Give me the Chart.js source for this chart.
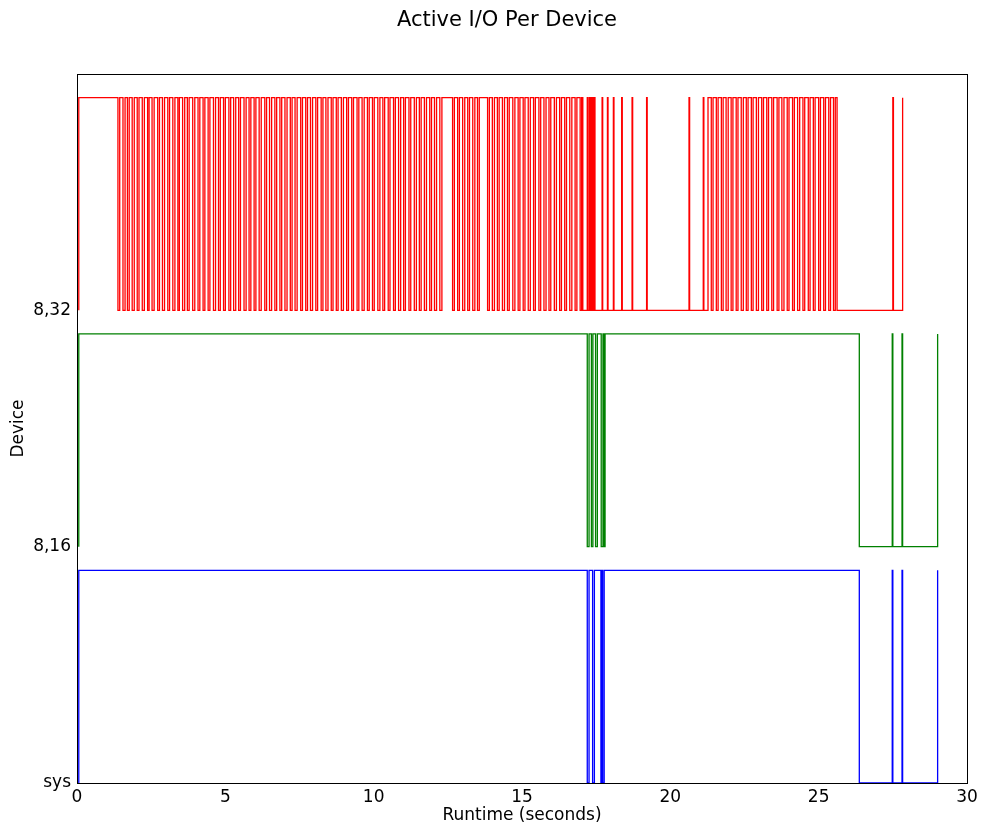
<!DOCTYPE html>
<html>
<head>
<meta charset="utf-8">
<script src="https://cdn.jsdelivr.net/npm/chart.js@4/dist/chart.umd.min.js"></script>
<style>
  html, body { margin: 0; padding: 0; background: #fff; }
  #wrap { width: 982px; height: 828px; position: relative; }
</style>
</head>
<body>
<div id="wrap"><canvas id="c" width="982" height="828"></canvas></div>
<script>
// ---- data ----
const chartTitle = "Active I/O Per Device";
const xAxisTitle = "Runtime (seconds)";
const yAxisTitle = "Device";
const deviceLabels = ["sys", "8,16", "8,32"];
const deviceBase = [0, 1, 2];
const activeLevel = 0.9;
const xTicks = [0, 5, 10, 15, 20, 25, 30];

// Toggle times (seconds): each series starts idle, and flips idle/active at every listed time.
const sysToggles = [0.06,
  17.20, 17.26, 17.38, 17.44, 17.66, 17.69, 17.72, 17.77,
  26.37, 27.48, 27.50, 27.81, 27.83, 29.01];

const dev816Toggles = [0.06,
  17.20, 17.26, 17.34, 17.39, 17.48, 17.54, 17.67, 17.73, 17.76, 17.80,
  26.37, 27.48, 27.50, 27.81, 27.83, 29.01];

const dev832Toggles = [0.06,
  1.38, 1.44, 1.55, 1.62, 1.70, 1.76, 1.86, 1.93, 2.03, 2.09, 2.20, 2.27, 2.38, 2.43,
  2.53, 2.60, 2.72, 2.78, 2.88, 2.95, 3.06, 3.12, 3.23, 3.30, 3.40, 3.45, 3.56, 3.63,
  3.72, 3.78, 3.90, 3.97, 4.08, 4.14, 4.25, 4.31, 4.42, 4.48, 4.60, 4.67, 4.77, 4.83,
  4.94, 5.00, 5.12, 5.18, 5.28, 5.35, 5.45, 5.51, 5.63, 5.70, 5.80, 5.86, 5.97, 6.03,
  6.14, 6.21, 6.33, 6.39, 6.49, 6.56, 6.67, 6.73, 6.84, 6.90, 7.01, 7.08, 7.19, 7.25,
  7.35, 7.42, 7.54, 7.60, 7.71, 7.77, 7.87, 7.94, 8.05, 8.11, 8.23, 8.29, 8.39, 8.46,
  8.57, 8.63, 8.74, 8.80, 8.91, 8.98, 9.09, 9.15, 9.26, 9.32, 9.44, 9.50, 9.61, 9.68,
  9.79, 9.85, 9.96, 10.02, 10.14, 10.21, 10.31, 10.37, 10.49, 10.55, 10.67, 10.73,
  10.84, 10.91, 11.01, 11.07, 11.19, 11.25, 11.37, 11.44, 11.54, 11.60, 11.71, 11.78,
  11.89, 11.95, 12.05, 12.12, 12.23, 12.30, 12.66, 12.72, 12.83, 12.89, 13.00, 13.07,
  13.17, 13.23, 13.34, 13.41, 13.50, 13.56, 13.84, 13.90, 14.00, 14.07, 14.17, 14.23,
  14.34, 14.41, 14.51, 14.57, 14.69, 14.76, 14.87, 14.93, 15.04, 15.10, 15.21, 15.28,
  15.39, 15.45, 15.57, 15.63, 15.74, 15.81, 15.91, 15.97, 16.09, 16.16, 16.27, 16.33,
  16.44, 16.50, 16.61, 16.68, 16.79, 16.85, 16.96, 17.01,
  17.05,
  17.20, 17.22, 17.27, 17.29, 17.33, 17.35, 17.38, 17.40, 17.44, 17.46, 17.70, 17.72,
  17.88, 17.90, 18.08, 18.10, 18.36, 18.38, 18.71, 18.73, 19.20, 19.22, 20.63, 20.65,
  21.11, 21.13,
  21.27,
  21.38, 21.44, 21.55, 21.61, 21.72, 21.78, 21.88, 21.95, 22.05, 22.11, 22.22, 22.28,
  22.39, 22.46, 22.56, 22.62, 22.73, 22.79, 22.90, 22.97, 23.08, 23.14, 23.25, 23.31,
  23.42, 23.48, 23.60, 23.66, 23.76, 23.83, 23.94, 24.00, 24.12, 24.18, 24.29, 24.36,
  24.47, 24.53, 24.65, 24.71, 24.82, 24.88, 25.00, 25.06, 25.17, 25.23, 25.34, 25.40,
  25.50, 25.56,
  25.62,
  27.50, 27.52, 27.83];

const seriesToggles = [sysToggles, dev816Toggles, dev832Toggles];
const seriesColors = ["#0000ff", "#008000", "#ff0000"];

// ---- build step points ----
function buildPoints(toggles, base) {
  const pts = [{ x: toggles[0], y: base }];
  let active = false;
  for (const t of toggles) {
    active = !active;
    pts.push({ x: t, y: base + (active ? activeLevel : 0) });
  }
  return pts;
}

const datasets = seriesToggles.map((tg, i) => ({
  label: deviceLabels[i],
  data: buildPoints(tg, deviceBase[i]),
  borderColor: seriesColors[i],
  borderWidth: 1.3,
  pointRadius: 0,
  stepped: true,
  fill: false
}));

const FONT = "'DejaVu Sans', sans-serif";

const framePlugin = {
  id: 'frame',
  afterDatasetsDraw(chart) {
    const { ctx, chartArea: a } = chart;
    ctx.save();
    ctx.strokeStyle = '#000';
    ctx.lineWidth = 1;
    ctx.strokeRect(Math.round(a.left) + 0.5, Math.round(a.top) + 0.5,
                   Math.round(a.right - a.left), Math.round(a.bottom - a.top));
    ctx.restore();
  },
  afterDraw(chart) {
    const { ctx } = chart;
    ctx.save();
    ctx.fillStyle = '#000';
    ctx.font = "21px " + FONT;
    ctx.textAlign = 'center';
    ctx.textBaseline = 'middle';
    ctx.fillText(chartTitle, 507, 21);
    ctx.restore();
  }
};

new Chart(document.getElementById('c'), {
  type: 'line',
  data: { datasets },
  options: {
    responsive: false,
    animation: false,
    events: [],
    layout: { padding: { top: 74, right: 15, bottom: 0, left: 0 } },
    plugins: { legend: { display: false }, tooltip: { enabled: false }, title: { display: false } },
    scales: {
      x: {
        type: 'linear', min: 0, max: 30,
        afterBuildTicks(s) { s.ticks = xTicks.map(v => ({ value: v })); },
        afterFit(s) { s.height = 45; },
        grid: { display: false, drawTicks: false },
        border: { display: false },
        ticks: { color: '#000', font: { family: FONT, size: 17 }, padding: 4, maxRotation: 0 },
        title: { display: true, text: xAxisTitle, color: '#000', font: { family: FONT, size: 17 }, padding: { top: 0, bottom: 2 } }
      },
      y: {
        type: 'linear', min: 0, max: 3,
        afterBuildTicks(s) { s.ticks = deviceBase.map(v => ({ value: v })); },
        afterFit(s) { s.width = 77; },
        grid: { display: false, drawTicks: false },
        border: { display: false },
        ticks: { color: '#000', font: { family: FONT, size: 17 }, padding: 6,
                 callback: (v) => deviceLabels[deviceBase.indexOf(v)] },
        title: { display: true, text: yAxisTitle, color: '#000', font: { family: FONT, size: 17 }, padding: { top: 8, bottom: 0 } }
      }
    }
  },
  plugins: [framePlugin]
});
</script>
</body>
</html>
